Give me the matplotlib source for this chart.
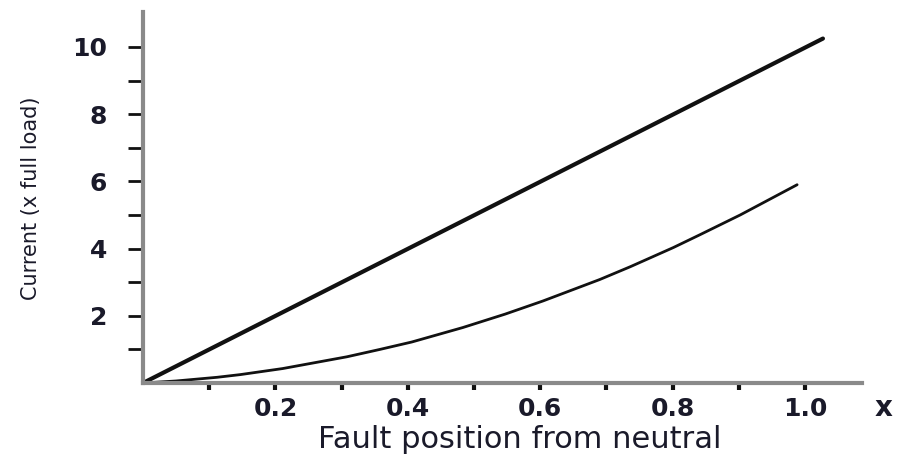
import matplotlib
matplotlib.use("Agg")
import matplotlib.pyplot as plt
from matplotlib.ticker import FixedLocator

# Data
line_x = [0.0, 1.027]
line_y = [0.0, 10.25]
curve_x = [0.0, 0.05, 0.112, 0.147, 0.211, 0.308, 0.358, 0.406, 0.483, 0.547,
           0.604, 0.690, 0.736, 0.801, 0.841, 0.902, 0.988]
curve_y = [0.0, 0.06, 0.17, 0.25, 0.43, 0.78, 1.00, 1.22, 1.65, 2.05,
           2.44, 3.08, 3.46, 4.03, 4.41, 5.00, 5.90]

x_major = [0.2, 0.4, 0.6, 0.8, 1.0]
x_minor = [0.1, 0.3, 0.5, 0.7, 0.9]
x_labels = ["0.2", "0.4", "0.6", "0.8", "1.0"]
y_major = [2, 4, 6, 8, 10]
y_minor = [1, 3, 5, 7, 9]
y_labels = ["2", "4", "6", "8", "10"]

TXT = "#1a1a2a"
W, H = 907, 454
fig = plt.figure(figsize=(W / 100, H / 100), dpi=100)
ax = fig.add_axes([143 / W, (454 - 383) / H, 719 / W, 371 / H])

ax.plot(line_x, line_y, color="#111111", lw=3.0, solid_capstyle="round")
ax.plot(curve_x, curve_y, color="#111111", lw=2.0, solid_capstyle="round")

ax.set_xlim(0, 1.086)
ax.set_ylim(0, 11.04)

for s in ("top", "right"):
    ax.spines[s].set_visible(False)
for s in ("left", "bottom"):
    ax.spines[s].set_color("#8a8a8a")
    ax.spines[s].set_linewidth(3.0)

ax.xaxis.set_major_locator(FixedLocator(x_major))
ax.xaxis.set_minor_locator(FixedLocator(x_minor))
ax.set_xticklabels(x_labels)
ax.yaxis.set_major_locator(FixedLocator(y_major))
ax.yaxis.set_minor_locator(FixedLocator(y_minor))
ax.set_yticklabels(y_labels)

ax.tick_params(axis="x", which="both", direction="out", length=5, width=3,
               color="#111111", pad=5, labelsize=18, labelcolor=TXT)
ax.tick_params(axis="y", which="both", direction="out", length=11, width=2,
               color="#111111", pad=15, labelsize=18, labelcolor=TXT)
for lab in ax.get_xticklabels() + ax.get_yticklabels():
    lab.set_fontfamily("DejaVu Sans")
    lab.set_fontweight("bold")

fig.text(520 / W, 1 - 439 / H, "Fault position from neutral", ha="center",
         va="center", fontsize=22, color=TXT, family="DejaVu Sans")
fig.text(31 / W, 1 - 198 / H, "Current (x full load)", ha="center",
         va="center", rotation=90, fontsize=15, color=TXT, family="DejaVu Sans")
fig.text(884 / W, 1 - 408 / H, "x", ha="center", va="center",
         fontsize=20, color=TXT, family="DejaVu Sans", fontweight="bold")

fig.savefig("out.png", dpi=100)
